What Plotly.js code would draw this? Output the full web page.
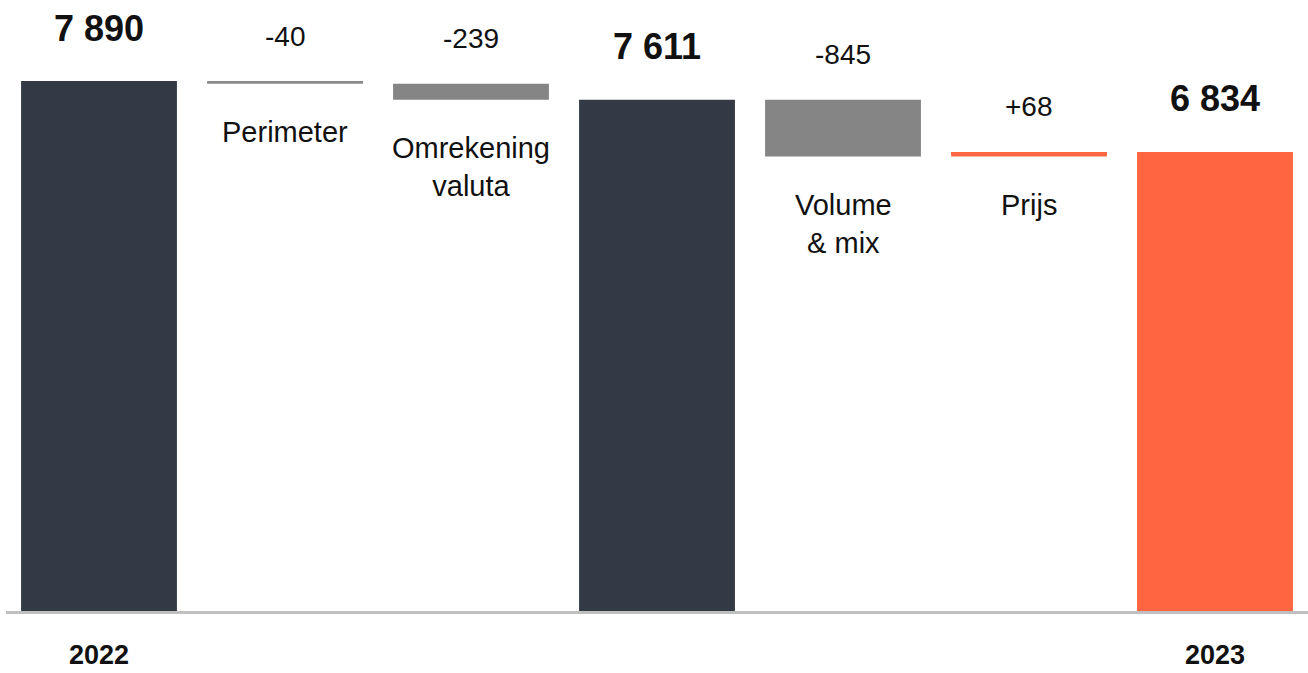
<!DOCTYPE html>
<html>
<head>
<meta charset="utf-8">
<script src="https://cdn.plot.ly/plotly-3.0.1.min.js"></script>
<style>html,body{margin:0;padding:0;background:#fff;}#chart{width:1308px;height:673px;}</style>
</head>
<body>
<div id="chart"></div>
<script>
// Data
const categories = ['2022', 'Perimeter', 'Omrekening<br>valuta', 'Subtotaal', 'Volume<br>& mix', 'Prijs', '2023'];
const values = [7890, -40, -239, 7611, -845, 68, 6834];
const measures = ['total', 'delta', 'delta', 'total', 'delta', 'delta', 'total'];
const valueLabels = ['7 890', '-40', '-239', '7 611', '-845', '+68', '6 834'];
const tickLabels = ['2022', '', '', '', '', '', '2023'];
const barColors = ['#333a45', '#8a8a8a', '#858585', '#333a45', '#858585', '#ff6540', '#ff6540'];

// Build bases (running total)
const xs = categories.map((c, i) => i);
const bases = [];
const ys = [];
let running = 0;
values.forEach((v, i) => {
  if (measures[i] === 'total') { bases.push(0); ys.push(v); running = v; }
  else { bases.push(running); ys.push(v); running += v; }
});

const annotations = [];
values.forEach((v, i) => {
  const top = Math.max(bases[i], bases[i] + ys[i]);
  const bottom = Math.min(bases[i], bases[i] + ys[i]);
  const isTotal = measures[i] === 'total';
  annotations.push({
    x: xs[i], y: top, xref: 'x', yref: 'y',
    text: isTotal ? '<b>' + valueLabels[i] + '</b>' : valueLabels[i],
    showarrow: false, yanchor: 'middle', yshift: isTotal ? 53 : 45,
    font: {family: 'Liberation Sans, Arial, sans-serif', size: isTotal ? 36 : 28, color: '#111'}
  });
  if (!isTotal) {
    annotations.push({
      x: xs[i], y: bottom, xref: 'x', yref: 'y',
      text: categories[i],
      showarrow: false, yanchor: 'top', yshift: -30,
      font: {family: 'Liberation Sans, Arial, sans-serif', size: 29, color: '#111'}
    });
  }
});

const trace = {
  type: 'bar',
  x: xs,
  y: ys,
  base: bases,
  width: 0.838,
  marker: {color: barColors, line: {width: 0}},
  hoverinfo: 'skip'
};

const layout = {
  width: 1308, height: 673,
  margin: {l: 6, r: 0, t: 0, b: 62},
  paper_bgcolor: '#ffffff', plot_bgcolor: '#ffffff',
  showlegend: false,
  xaxis: {
    range: [-0.5, 6.5], tickvals: xs, ticktext: tickLabels,
    showgrid: false, zeroline: false, showline: true, linecolor: '#c0c0c0', linewidth: 3,
    ticks: '', ticklabelstandoff: 18,
    tickfont: {family: 'Liberation Sans, Arial, sans-serif', size: 27, color: '#111', weight: 'bold'},
    fixedrange: true
  },
  yaxis: {
    range: [0, 9096], visible: false, showgrid: false, zeroline: false, fixedrange: true
  },
  annotations: annotations
};

Plotly.newPlot('chart', [trace], layout, {displayModeBar: false, staticPlot: true});
</script>
</body>
</html>
